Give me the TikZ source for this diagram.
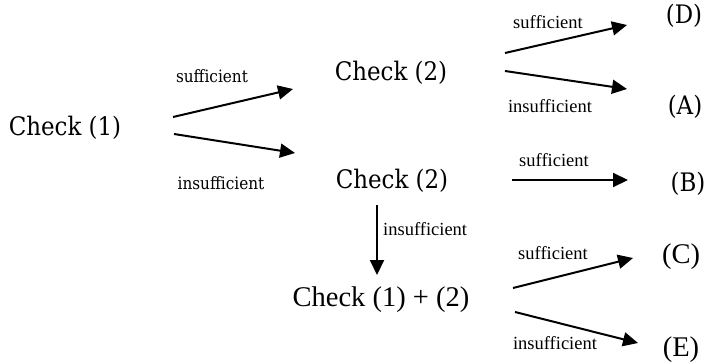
\documentclass[tikz,border=0pt]{standalone}
\usepackage{fontspec}
\newfontfamily\timesfont{Liberation Serif}
\newfontfamily\cambfont{DejaVu Serif Condensed}
\usetikzlibrary{arrows.meta}

\begin{document}
\begin{tikzpicture}[x=1pt,y=-1pt,
    arr/.style={-{Triangle[length=15pt,width=14pt]},line width=2pt},
    big/.style={inner sep=0pt,font=\cambfont\fontsize{25.5}{29}\selectfont},
    bigt/.style={inner sep=0pt,font=\timesfont\fontsize{28.5}{32}\selectfont},
    lab/.style={inner sep=0pt,font=\cambfont\fontsize{17}{20}\selectfont},
    labt/.style={inner sep=0pt,font=\timesfont\fontsize{18.5}{21}\selectfont}]
          \useasboundingbox (0,0) rectangle (710,364);
          \begin{scope}[every node/.style={big}]
            \node (c1) at (65, 128) {Check (1)};
            \node (c2a) at (391, 73) {Check (2)};
            \node (c2b) at (392, 181) {Check (2)};
            \node (ansD) at (684, 16) {(D)};
            \node (ansA) at (685, 107) {(A)};
            \node (ansB) at (688, 184) {(B)};
          \end{scope}
          \begin{scope}[every node/.style={bigt}]
            \node (c12) at (381, 300) {Check (1) + (2)};
            \node (ansC) at (681, 257) {(C)};
            \node (ansE) at (681, 350) {(E)};
          \end{scope}
          \node (suf1) [lab] at (212, 76) {sufficient};
          \node (ins1) [lab] at (221, 183) {insufficient};
          \begin{scope}[every node/.style={labt}]
            \node (sufD) at (548, 22) {sufficient};
            \node (insA) at (550, 106) {insufficient};
            \node (sufB) at (554, 160) {sufficient};
            \node (ins2) [anchor=west] at (383, 229) {insufficient};
            \node (sufC) at (553, 253) {sufficient};
            \node (insE) at (555, 343) {insufficient};
          \end{scope}
          \begin{scope}[every edge/.style={draw,arr}]
            \path ([shift={(108,-11)}]c1.center) edge ([shift={(-98,16)}]c2a.center);
            \path ([shift={(109,6)}]c1.center) edge ([shift={(-97,-28)}]c2b.center);
            \path ([shift={(114,-20)}]c2a.center) edge ([shift={(-57,9)}]ansD.center);
            \path ([shift={(114,-2)}]c2a.center) edge ([shift={(-58,-18)}]ansA.center);
            \path ([shift={(120,-1)}]c2b.center) edge ([shift={(-60,-4)}]ansB.center);
            \path ([shift={(-15,24)}]c2b.center) edge ([shift={(-4,-25)}]c12.center);
            \path ([shift={(132,-12)}]c12.center) edge ([shift={(-48,1)}]ansC.center);
            \path ([shift={(134,12)}]c12.center) edge ([shift={(-43,-7)}]ansE.center);
          \end{scope}
        \end{tikzpicture}
\end{document}
